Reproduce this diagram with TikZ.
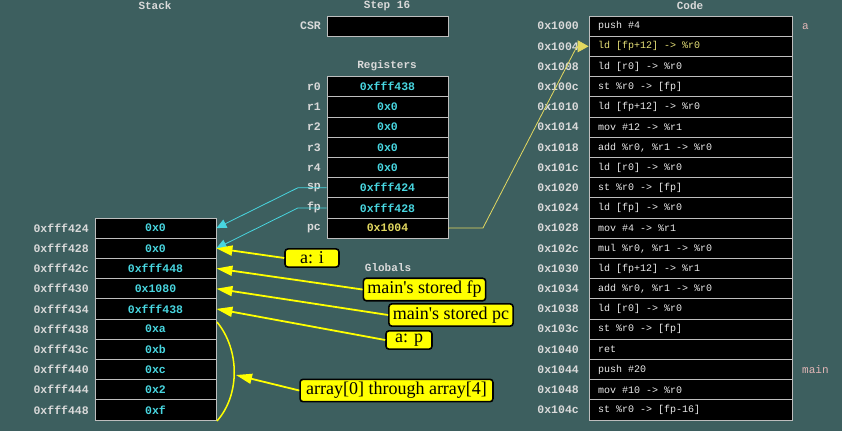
\documentclass[tikz,border=0pt]{standalone}
\usepackage{fontspec}
\setmainfont{Liberation Serif}
\setmonofont{Liberation Mono}
\usetikzlibrary{arrows.meta,positioning}
\definecolor{bgteal}{RGB}{61,95,95}
\definecolor{lblgray}{RGB}{218,218,218}
\definecolor{cellgray}{RGB}{190,190,190}
\definecolor{valcyan}{RGB}{72,214,224}
\definecolor{pcyellow}{RGB}{226,216,96}
\definecolor{codeyellow}{RGB}{232,226,120}
\definecolor{tagpink}{RGB}{226,182,182}
\definecolor{noteyellow}{RGB}{255,255,0}

\begin{document}
\begin{tikzpicture}[x=1pt,y=-1pt,
  cell/.style={draw=cellgray, fill=black, line width=0.8pt, minimum height=20.2pt, inner sep=0pt},
  val/.style={font=\ttfamily\bfseries\fontsize{11.5}{11.5}\selectfont, text=valcyan},
  lbl/.style={font=\ttfamily\bfseries\fontsize{11.5}{11.5}\selectfont, text=lblgray, anchor=east, inner sep=0pt},
  title/.style={font=\ttfamily\bfseries\fontsize{11}{11}\selectfont, text=lblgray, inner sep=0pt},
  codetxt/.style={font=\ttfamily\fontsize{10}{10}\selectfont, text=white!92!black, anchor=west, inner sep=0pt},
  tag/.style={font=\ttfamily\fontsize{11}{11}\selectfont, text=tagpink, anchor=west, inner sep=0pt},
  note/.style={draw=black, fill=noteyellow, line width=1.6pt, rounded corners=3pt, font=\fontsize{18}{18}\selectfont, inner xsep=4pt, inner ysep=3pt},
  noteline/.style={draw=noteyellow, line width=1.8pt, -{Triangle[length=16pt,width=10pt]}},
  regline/.style={draw=valcyan, line width=0.8pt, -{Triangle[length=10pt,width=9pt]}}]
  \fill[bgteal] (0,0) rectangle (842,431);
  \useasboundingbox (0,0) rectangle (842,431);
% Titles
  \node[title] (stacktitle) at (155,6) {Stack};
  \node[title] (steptitle) at (387,6) {Step\hspace{6.6pt}16};
  \node[title] (codetitle) at (690,6) {Code};
  \node[title] (regtitle) at (387,66) {Registers};
  \node[title] (globtitle) at (388,268) {Globals};
% CSR and registers
  \node[cell, minimum width=121pt] (csr) at (387.5,26.1) {};
  \node[lbl] (csrlbl) at (321,26.1) {CSR};
  \foreach \nm/\val [count=\i from 3] in {r0/0xfff438, r1/0x0, r2/0x0, r3/0x0, r4/0x0,
      sp/0xfff424, fp/0xfff428, pc/{\color{pcyellow}0x1004}} {
    \node[cell, val, minimum width=121pt] (reg-\nm) at (387.5,{26.1+20.2*\i}) {\val};
    \node[lbl] (lbl-\nm) at (321,{26.1+20.2*\i}) {\nm};
  }
% Stack
  \foreach \adr/\val [count=\i from 0] in {0xfff424/0x0, 0xfff428/0x0, 0xfff42c/0xfff448,
      0xfff430/0x1080, 0xfff434/0xfff438, 0xfff438/0xa, 0xfff43c/0xb, 0xfff440/0xc,
      0xfff444/0x2, 0xfff448/0xf} {
    \node[cell, val, minimum width=121pt] (s\i) at (155.5,{26.1+20.2*(\i+10)}) {\val};
    \node[lbl] (sa\i) at (89,{26.1+20.2*(\i+10)}) {\adr};
  }
% Code
  \foreach \adr/\txt [count=\i from 0] in {0x1000/push \#4, 0x1004/{\color{codeyellow}ld [fp+12] -> \%r0},
      0x1008/ld [r0] -> \%r0, 0x100c/st \%r0 -> [fp], 0x1010/ld [fp+12] -> \%r0,
      0x1014/mov \#12 -> \%r1, 0x1018/{add \%r0, \%r1 -> \%r0}, 0x101c/ld [r0] -> \%r0,
      0x1020/st \%r0 -> [fp], 0x1024/ld [fp] -> \%r0, 0x1028/mov \#4 -> \%r1,
      0x102c/{mul \%r0, \%r1 -> \%r0}, 0x1030/ld [fp+12] -> \%r1, 0x1034/{add \%r0, \%r1 -> \%r0},
      0x1038/ld [r0] -> \%r0, 0x103c/st \%r0 -> [fp], 0x1040/ret, 0x1044/push \#20,
      0x1048/mov \#10 -> \%r0, 0x104c/st \%r0 -> [fp-16]} {
    \node[cell, minimum width=203pt] (c\i) at (690.5,{26.1+20.2*\i}) {};
    \node[codetxt] (ct\i) at (598,{26.1+20.2*\i}) {\txt};
    \node[lbl] (ca\i) at (579,{26.1+20.2*\i}) {\adr};
  }
  \node[tag] (tag-a) at (802,26.1) {a};
  \node[tag] (tag-main) at (802,369.5) {main};
% Register pointers
  \coordinate (spbend) at (298,187.7);
  \coordinate (fpbend) at (298,207.9);
  \draw[regline] (reg-sp.west) -- (spbend) -- (s0.east);
  \draw[regline] (reg-fp.west) -- (fpbend) -- (s1.east);
  \coordinate (pcbend) at (483,227.9);
  \coordinate (pcturn) at (577,46.3);
  \draw[draw=pcyellow, line width=0.8pt, -{Triangle[length=11pt,width=12pt]}]
    (reg-pc.east) -- (pcbend) -- (pcturn) -- (c1.west);
% Notes
  \node[note, minimum width=54pt] (ai) at (312,258) {a: i};
  \node[note] (sfp) at (424.5,289.5) {main\textquotesingle s stored fp};
  \node[note] (spc) at (451,315) {main\textquotesingle s stored pc};
  \node[note, minimum width=46pt] (ap) at (409,340) {a: p};
  \node[note, inner xsep=6pt] (arr) at (396.5,390.5) {array[0] through array[4]};
  \draw[noteline] (ai.west) -- (s1.east);
  \draw[noteline] (sfp.west) -- (s2.east);
  \draw[noteline] (spc.west) -- (s3.east);
  \draw[noteline] (ap.west) -- (s4.east);
  \draw[draw=noteyellow, line width=1.5pt] (217,322) .. controls (240,350) and (240,395) .. (217,421);
  \coordinate (arcpt) at (236,375);
  \draw[noteline] (arr.west) -- (arcpt);
\end{tikzpicture}
\end{document}
